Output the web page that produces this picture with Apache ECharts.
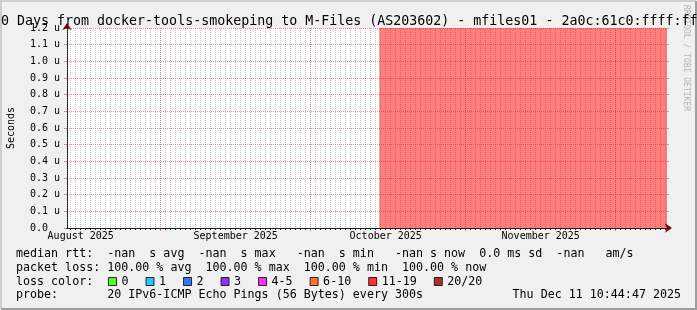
<!DOCTYPE html>
<html><head><meta charset="utf-8">
<script src="https://cdn.jsdelivr.net/npm/echarts@6/dist/echarts.min.js"></script>
<style>html,body{margin:0;padding:0;background:#f0f0f0}#c{width:697px;height:310px}</style>
</head><body><div id="c"></div>
<script>
// ---------- data ----------
const titleText = '120 Days from docker-tools-smokeping to M-Files (AS203602) - mfiles01 - 2a0c:61c0:ffff:ffff::1';
const yAxisName = 'Seconds';
const watermark = 'RRDTOOL / TOBI OETIKER';
const rangeStart = Date.UTC(2025, 7, 13, 6, 15);
const rangeEnd = Date.UTC(2025, 11, 11, 6, 15);
const yMin = 0, yMax = 1.2, yStep = 0.1;           // micro-seconds
const monthStarts = [Date.UTC(2025, 8, 1), Date.UTC(2025, 9, 1), Date.UTC(2025, 10, 1), Date.UTC(2025, 11, 1)];
const monthLabels = ['August 2025', 'September 2025', 'October 2025', 'November 2025'];
const monthLabelAt = [Date.UTC(2025, 7, 16), Date.UTC(2025, 8, 16), Date.UTC(2025, 9, 16), Date.UTC(2025, 10, 16)];
const lossTimes = [Date.UTC(2025, 9, 14, 17, 0), Date.UTC(2025, 11, 11, 6, 15)];
const lossValues = [1.2, 1.2];
const lossNames = ['0', '1', '2', '3', '4-5', '6-10', '11-19', '20/20'];
const lossColors = ['#26ff00', '#00b8ff', '#0059ff', '#7e00ff', '#ff00ff', '#ff5500', '#ff0000', '#a10000'];
const legendLine1 = 'median rtt:  -nan  s avg  -nan  s max   -nan  s min   -nan s now  0.0 ms sd  -nan   am/s';
const legendLine2 = 'packet loss: 100.00 % avg  100.00 % max  100.00 % min  100.00 % now';
const legendLine3 = 'loss color:';
const legendLine4 = 'probe:       20 IPv6-ICMP Echo Pings (56 Bytes) every 300s';
const legendDate = 'Thu Dec 11 10:44:47 2025';

// ---------- chart ----------
const DAY = 86400000;
const dailyTicks = [];
for (let t = Math.ceil(rangeStart / DAY) * DAY; t <= rangeEnd; t += DAY) dailyTicks.push(t);

const MONO = 'DejaVu Sans Mono';
const GRID = 'rgba(143,143,143,0.55)';
const MGRID = 'rgba(222,79,79,0.6)';
const ARROW = '#800000';
const AXIS = '#212121';

const chart = echarts.init(document.getElementById('c'), null, {renderer: 'canvas'});
const baseX = {type: 'value', min: rangeStart, max: rangeEnd, position: 'bottom',
  axisLine: {show: false}, axisTick: {show: false}, axisLabel: {show: false}, splitLine: {show: false}};
const baseY = {type: 'value', min: yMin, max: yMax, interval: yStep, position: 'left',
  axisLine: {show: false}, axisTick: {show: false}, axisLabel: {show: false}, splitLine: {show: false}};

chart.setOption({
  backgroundColor: '#f0f0f0',
  animation: false,
  title: {text: titleText, left: -20, top: 9,
    textStyle: {fontFamily: MONO, fontSize: 13.3, fontWeight: 'normal', color: '#000', lineHeight: 15}},
  grid: {left: 67, top: 28, width: 600, height: 200, show: true, backgroundColor: '#fff', borderWidth: 0,
    outerBoundsMode: 'none', containLabel: false},
  legend: {left: 108, top: 275.5, padding: 0, icon: 'rect', itemWidth: 8, itemHeight: 8, itemGap: 17,
    selectedMode: false, data: lossNames,
    itemStyle: {borderColor: '#000', borderWidth: 1},
    textStyle: {fontFamily: MONO, fontSize: 11.67, color: '#000'}},
  xAxis: [
    Object.assign({}, baseX, {z: 0,
      axisTick: {show: true, customValues: dailyTicks, length: 2, lineStyle: {color: AXIS}},
      splitLine: {show: true, lineStyle: {color: GRID, type: [1, 1], width: 1}}}),
    Object.assign({}, baseX, {z: 1,
      axisTick: {show: true, customValues: monthStarts, length: 3, lineStyle: {color: MGRID}},
      splitLine: {show: true, lineStyle: {color: MGRID, type: [1, 1], width: 1}},
      axisLabel: {show: true, customValues: monthLabelAt, margin: 3, hideOverlap: false,
        fontFamily: MONO, fontSize: 10, color: '#000',
        formatter: v => { const i = monthLabelAt.findIndex(m => Math.abs(m - v) < 60000); return i >= 0 ? monthLabels[i] : ''; }}}),
    Object.assign({}, baseX, {z: 4,
      axisLine: {show: true, symbol: ['none', 'arrow'], symbolSize: [7, 7], symbolOffset: [0, 5], lineStyle: {color: ARROW, width: 1}}}),
    Object.assign({}, baseX, {z: 5,
      axisLine: {show: true, lineStyle: {color: AXIS, width: 1}}})
  ],
  yAxis: [
    Object.assign({}, baseY, {z: 1,
      name: yAxisName, nameLocation: 'middle', nameGap: 51,
      nameTextStyle: {fontFamily: MONO, fontSize: 10, color: '#000'},
      axisTick: {show: true, length: 3, lineStyle: {color: MGRID}},
      splitLine: {show: true, lineStyle: {color: MGRID, type: [1, 1], width: 1}},
      axisLabel: {show: true, margin: 7, fontFamily: MONO, fontSize: 10, color: '#000',
        formatter: v => v === 0 ? '0.0  ' : v.toFixed(1) + ' u'}}),
    Object.assign({}, baseY, {z: 4,
      axisLine: {show: true, symbol: ['none', 'arrow'], symbolSize: [7, 7], symbolOffset: [0, 5], lineStyle: {color: ARROW, width: 1}}}),
    Object.assign({}, baseY, {z: 5,
      axisLine: {show: true, lineStyle: {color: AXIS, width: 1}}}),
    Object.assign({}, baseY, {z: 1, position: 'right',
      axisTick: {show: true, length: 2, lineStyle: {color: MGRID}}})
  ],
  series: [
    {type: 'line', name: 'loss', z: 3, xAxisIndex: 0, yAxisIndex: 0, symbol: 'none', silent: true,
     data: lossTimes.map((t, i) => [t, lossValues[i]]),
     lineStyle: {width: 0}, areaStyle: {color: 'rgba(255,0,0,0.5)', opacity: 1}}
  ].concat(lossNames.map((n, i) => ({type: 'scatter', name: n, data: [], itemStyle: {color: lossColors[i]}}))),
  graphic: [
    {type: 'text', left: 16, top: 247.5, style: {text: legendLine1, font: '11.67px ' + MONO, fill: '#000'}},
    {type: 'text', left: 16, top: 261.5, style: {text: legendLine2, font: '11.67px ' + MONO, fill: '#000'}},
    {type: 'text', left: 16, top: 275.5, style: {text: legendLine3, font: '11.67px ' + MONO, fill: '#000'}},
    {type: 'text', left: 16, top: 289, style: {text: legendLine4, font: '11.67px ' + MONO, fill: '#000'}},
    {type: 'text', right: 16, top: 289, style: {text: legendDate, font: '11.67px ' + MONO, fill: '#000'}},
    {type: 'text', x: 686.5, y: 5, rotation: -Math.PI / 2,
     style: {text: watermark, font: '8px ' + MONO, fill: '#b4b4b4', align: 'left', verticalAlign: 'middle'}},
    {type: 'polyline', shape: {points: [[1, 309], [1, 1], [696, 1]]}, style: {stroke: '#cfcfcf', lineWidth: 2, fill: null}},
    {type: 'polyline', shape: {points: [[1, 309], [696, 309], [696, 1]]}, style: {stroke: '#9e9e9e', lineWidth: 2, fill: null}}
  ]
});
</script></body></html>
